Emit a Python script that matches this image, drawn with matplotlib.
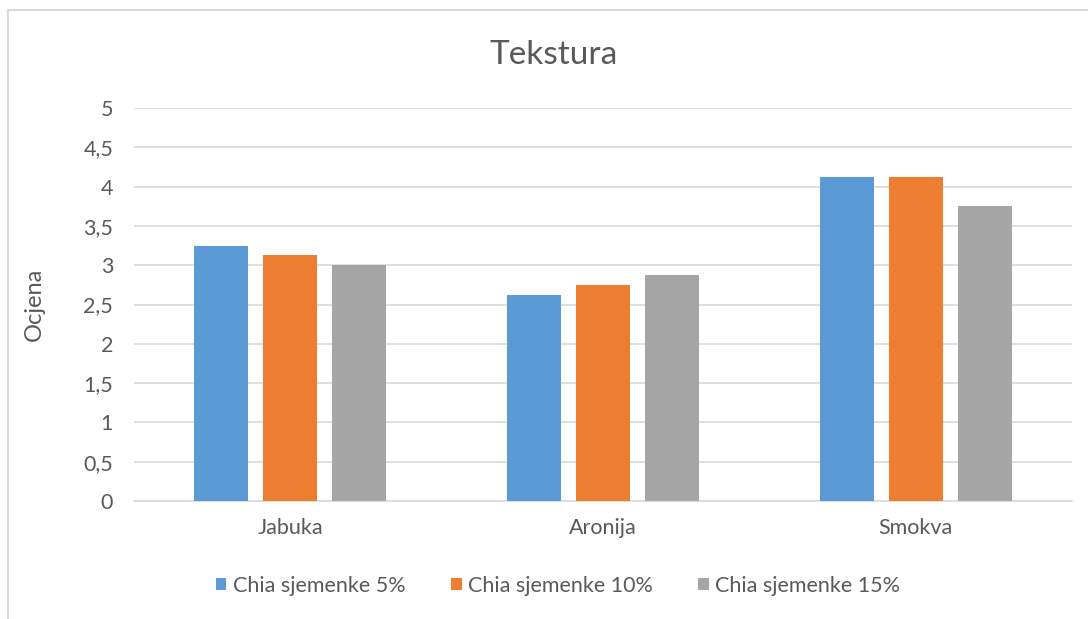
import numpy as np
import matplotlib.pyplot as plt
from matplotlib.patches import Rectangle

categories = ["Jabuka", "Aronija", "Smokva"]
series_names = ["Chia sjemenke 5%", "Chia sjemenke 10%", "Chia sjemenke 15%"]
chia_5 = [3.25, 2.625, 4.125]
chia_10 = [3.125, 2.75, 4.125]
chia_15 = [3.0, 2.875, 3.75]
y_ticks = [0, 0.5, 1, 1.5, 2, 2.5, 3, 3.5, 4, 4.5, 5]
y_tick_labels = ["0", "0,5", "1", "1,5", "2", "2,5", "3", "3,5", "4", "4,5", "5"]

colors = ["#5B9BD5", "#ED7D31", "#A5A5A5"]
text_color = "#595959"
grid_color = "#D9D9D9"

plt.rcParams["font.family"] = ["Lato", "DejaVu Sans"]

fig = plt.figure(figsize=(10.88, 6.19), dpi=100)
ax = fig.add_axes([134 / 1088, 1 - 501 / 619, (1072 - 134) / 1088, (501 - 108) / 619])

# chart border (partly cut off at right and bottom in the original)
fig.patches.append(Rectangle((8 / 1088, -0.05), 1.2, (619 - 10) / 619 + 0.05,
                             transform=fig.transFigure, fill=False,
                             edgecolor="#D9D9D9", linewidth=1.5))

x = np.arange(len(categories))
width = 0.173
step = 0.221
for i, (vals, name) in enumerate(zip([chia_5, chia_10, chia_15], series_names)):
    ax.bar(x + (i - 1) * step, vals, width, color=colors[i], label=name, zorder=3)

ax.set_xlim(-0.5, len(categories) - 0.5)
ax.set_ylim(0, 5)
ax.set_yticks(y_ticks)
ax.set_yticklabels(y_tick_labels)
ax.set_xticks(x)
ax.set_xticklabels(categories)
ax.grid(axis="y", color=grid_color, linewidth=1.2, zorder=0)
for s in ["top", "right", "left"]:
    ax.spines[s].set_visible(False)
ax.spines["bottom"].set_color(grid_color)
ax.spines["bottom"].set_linewidth(1.2)
ax.tick_params(axis="both", length=0, colors=text_color, labelsize=15.5)
ax.tick_params(axis="y", pad=15)
ax.tick_params(axis="x", pad=12)

ax.set_ylabel("Ocjena", color=text_color, fontsize=17)
ax.yaxis.set_label_coords(-0.095, 0.5)
fig.text(554 / 1088, 1 - 55 / 619, "Tekstura", ha="center", va="center",
         fontsize=24, color=text_color)

leg = fig.legend(loc="center", bbox_to_anchor=(558 / 1088, 1 - 586 / 619), ncol=3,
                 frameon=False, fontsize=15.5, handlelength=0.5, handleheight=0.5,
                 handletextpad=0.3, columnspacing=2.1)
for t in leg.get_texts():
    t.set_color(text_color)

fig.savefig("out.png", dpi=100)
